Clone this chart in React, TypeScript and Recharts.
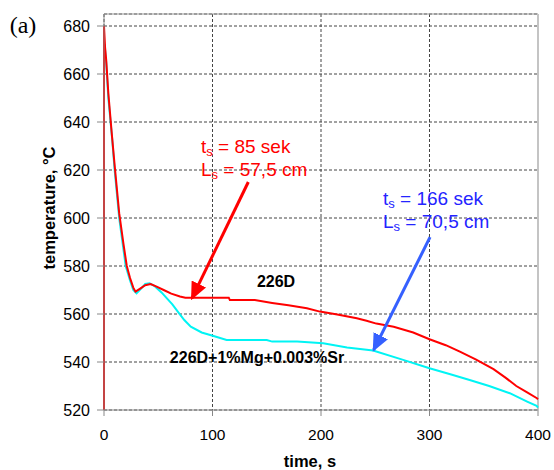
import { LineChart, Line, XAxis, YAxis, CartesianGrid, ReferenceLine } from "recharts";

// time (s) / temperature (°C)
const redTime = [0, 0, 1, 2, 4, 7, 10, 14, 18, 21, 24, 27, 29, 33, 38, 43, 48, 55, 62, 70, 75, 115, 116, 139, 155, 170, 187, 199, 215, 233, 242, 251, 267, 285, 300, 315, 328, 343, 359, 370, 380, 390, 399, 400];
const redTemp = [520, 680, 671, 666, 652, 636, 621, 602, 589, 580, 575, 571, 569.3, 570.5, 572, 572.5, 571.5, 570, 568.5, 567.3, 566.8, 566.8, 565.8, 565.8, 564.6, 563.6, 562.4, 561, 559.8, 558.2, 557.2, 556, 554.7, 552.3, 549.5, 547, 544.3, 541, 537, 533.5, 530, 527.3, 524.9, 524.5];

const cyanTime = [0.5, 2, 4, 7.6, 9.8, 14, 20, 24, 27, 30, 34, 38, 42, 47, 53, 58, 63, 68, 74, 80, 90, 101, 113, 150, 155, 178, 202, 224, 248, 275, 300, 320, 337, 355, 374, 390, 398.7, 400];
const cyanTemp = [672.5, 665, 650, 632.5, 620, 600, 580, 574, 570, 568.6, 570.5, 572.5, 572.8, 571.5, 569, 566.5, 564, 561, 557.5, 554.7, 552.3, 550.8, 549.2, 549.2, 548.5, 548.5, 547.8, 546, 544.8, 541, 537.4, 534.8, 532.5, 530, 527, 523.5, 521.7, 521];

const xTicks = [0, 100, 200, 300, 400];
const yTicks = [520, 540, 560, 580, 600, 620, 640, 660, 680];

const redData = redTime.map((t, i) => ({ t, v: redTemp[i] }));
const cyanData = cyanTime.map((t, i) => ({ t, v: cyanTemp[i] }));

const font = "'Liberation Sans', Arial, sans-serif";

const Sub = ({ children }: { children: string }) => (
  <tspan fontSize={13} dy={3}>{children}</tspan>
);

export default function App() {
  return (
    <div style={{ position: "absolute", left: 0, top: 0, background: "#fff" }}>
      <LineChart
        width={554}
        height={470}
        margin={{ top: 14, right: 16, bottom: 30, left: 44 }}
      >
        <defs>
          <marker id="headRed" markerUnits="userSpaceOnUse" markerWidth={18} markerHeight={16} viewBox="0 0 18 16" refX={16} refY={8} orient="auto">
            <path d="M0,0 L18,8 L0,16 z" fill="#ff0000" />
          </marker>
          <marker id="headBlue" markerUnits="userSpaceOnUse" markerWidth={18} markerHeight={16} viewBox="0 0 18 16" refX={16} refY={8} orient="auto">
            <path d="M0,0 L18,8 L0,16 z" fill="#3560ff" />
          </marker>
        </defs>
        <CartesianGrid stroke="#444" strokeDasharray="3 2" />
        <XAxis
          dataKey="t"
          type="number"
          domain={[0, 400]}
          ticks={xTicks}
          height={30}
          stroke="#888"
          tickSize={6}
          tickMargin={13}
          tick={{ fill: "#000", fontSize: 15.5, fontFamily: font }}
        />
        <YAxis
          type="number"
          domain={[520, 685]}
          ticks={yTicks}
          width={60}
          stroke="#888"
          tickSize={7}
          tickMargin={7}
          tick={{ fill: "#000", fontSize: 16, fontFamily: font }}
        />
        <ReferenceLine y={685} stroke="#999" />
        <ReferenceLine x={400} stroke="#c4c4c4" strokeWidth={2} />
        <Line data={cyanData} dataKey="v" stroke="#00f4f4" strokeWidth={2} dot={false} isAnimationActive={false} />
        <Line data={redData} dataKey="v" stroke="#ff0000" strokeWidth={2} dot={false} isAnimationActive={false} />
        <ReferenceLine
          segment={[{ x: 133, y: 615 }, { x: 81, y: 566.5 }]}
          stroke="#ff0000"
          strokeWidth={3}
          markerEnd="url(#headRed)"
        />
        <ReferenceLine
          segment={[{ x: 300.5, y: 592 }, { x: 248.5, y: 545 }]}
          stroke="#3560ff"
          strokeWidth={3}
          markerEnd="url(#headBlue)"
        />
        <text x={23} y={33} fontFamily="'Liberation Serif', serif" fontSize={24} textAnchor="middle">(a)</text>
        <text x={310} y={467} fontFamily={font} fontSize={16.5} fontWeight="bold" textAnchor="middle">time, s</text>
        <text x={55} y={208} fontFamily={font} fontSize={16.5} fontWeight="bold" textAnchor="middle" transform="rotate(-90 55 208)">temperature, °C</text>
        <text x={276} y={287} fontFamily={font} fontSize={16} fontWeight="bold" textAnchor="middle">226D</text>
        <text x={257} y={363} fontFamily={font} fontSize={16} fontWeight="bold" textAnchor="middle">226D+1%Mg+0.003%Sr</text>
        <g fill="#ff0000" fontFamily={font} fontSize={19}>
          <text x={201} y={153}>t<Sub>s</Sub><tspan dy={-3}> = 85 sek</tspan></text>
          <text x={201} y={176}>L<Sub>s</Sub><tspan dy={-3}> = 57,5 cm</tspan></text>
        </g>
        <g fill="#2424ff" fontFamily={font} fontSize={19}>
          <text x={383} y={205}>t<Sub>s</Sub><tspan dy={-3}> = 166 sek</tspan></text>
          <text x={383} y={228}>L<Sub>s</Sub><tspan dy={-3}> = 70,5 cm</tspan></text>
        </g>
      </LineChart>
    </div>
  );
}
